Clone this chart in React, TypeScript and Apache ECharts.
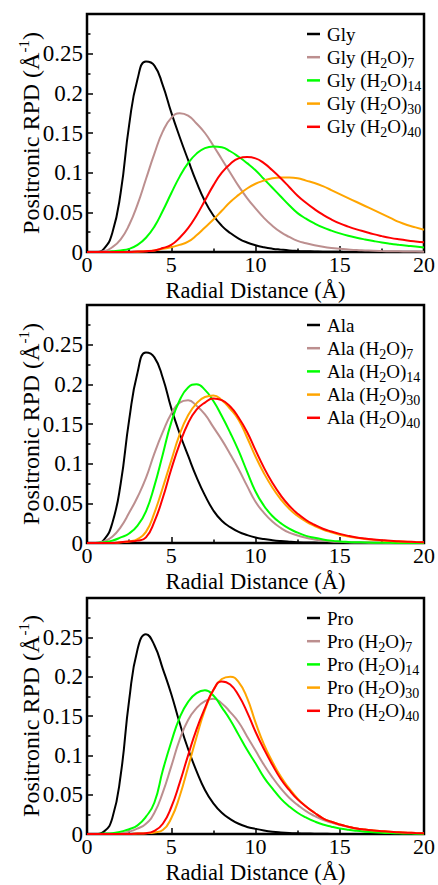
import React, { useEffect, useRef } from 'react';
import * as echarts from 'echarts';

// Radial distance grid (Å), every 0.5 Å from 0 to 20
const RADII = [0, 0.5, 1, 1.5, 2, 2.5, 3, 3.5, 4, 4.5, 5, 5.5, 6, 6.5, 7, 7.5, 8, 8.5, 9, 9.5, 10, 10.5, 11, 11.5, 12, 12.5, 13, 13.5, 14, 14.5, 15, 15.5, 16, 16.5, 17, 17.5, 18, 18.5, 19, 19.5, 20];

// Glycine panel
const GLY_LABELS = ['Gly', 'Gly (H2O)7', 'Gly (H2O)14', 'Gly (H2O)30', 'Gly (H2O)40'];
const GLY_0 = [0, 0, 0.004, 0.024, 0.075, 0.16, 0.218, 0.24, 0.235, 0.21, 0.176, 0.145, 0.116, 0.088, 0.064, 0.046, 0.033, 0.024, 0.017, 0.012, 0.0085, 0.006, 0.0042, 0.003, 0.002, 0.0014, 0.001, 0.0007, 0.0004, 0.0003, 0.0002, 0.0001, 0, 0, 0, 0, 0, 0, 0, 0, 0];
const GLY_7 = [0, 0, 0.001, 0.006, 0.016, 0.034, 0.06, 0.092, 0.124, 0.152, 0.169, 0.175, 0.172, 0.162, 0.15, 0.134, 0.117, 0.1, 0.083, 0.068, 0.055, 0.043, 0.033, 0.025, 0.019, 0.014, 0.011, 0.0085, 0.0065, 0.005, 0.004, 0.0032, 0.0025, 0.002, 0.0015, 0.0012, 0.001, 0.0008, 0.0006, 0.0005, 0.0004];
const GLY_14 = [0, 0, 0, 0.001, 0.002, 0.004, 0.009, 0.018, 0.032, 0.052, 0.074, 0.095, 0.112, 0.124, 0.131, 0.133, 0.132, 0.127, 0.12, 0.112, 0.103, 0.092, 0.081, 0.07, 0.059, 0.049, 0.042, 0.036, 0.031, 0.027, 0.0235, 0.0205, 0.018, 0.0158, 0.0138, 0.012, 0.0105, 0.0092, 0.008, 0.0068, 0.0058];
const GLY_30 = [0, 0, 0, 0, 0, 0, 0.0003, 0.001, 0.002, 0.004, 0.006, 0.009, 0.013, 0.021, 0.031, 0.041, 0.052, 0.063, 0.072, 0.08, 0.086, 0.09, 0.093, 0.094, 0.094, 0.093, 0.09, 0.087, 0.083, 0.078, 0.073, 0.068, 0.063, 0.058, 0.053, 0.048, 0.043, 0.038, 0.034, 0.031, 0.028];
const GLY_40 = [0, 0, 0, 0, 0, 0, 0.0005, 0.001, 0.002, 0.005, 0.009, 0.018, 0.03, 0.046, 0.065, 0.084, 0.1, 0.111, 0.118, 0.1196, 0.118, 0.112, 0.103, 0.093, 0.082, 0.071, 0.062, 0.054, 0.047, 0.041, 0.036, 0.032, 0.0285, 0.0255, 0.0225, 0.02, 0.0178, 0.016, 0.0145, 0.0133, 0.0123];

// Alanine panel
const ALA_LABELS = ['Ala', 'Ala (H2O)7', 'Ala (H2O)14', 'Ala (H2O)30', 'Ala (H2O)40'];
const ALA_0 = [0, 0, 0.004, 0.025, 0.075, 0.155, 0.215, 0.24, 0.234, 0.208, 0.17, 0.138, 0.11, 0.083, 0.06, 0.041, 0.028, 0.02, 0.014, 0.01, 0.007, 0.005, 0.0035, 0.0024, 0.0016, 0.001, 0.0007, 0.0005, 0.0003, 0.0002, 0.0001, 0, 0, 0, 0, 0, 0, 0, 0, 0, 0];
const ALA_7 = [0, 0, 0.002, 0.008, 0.02, 0.038, 0.058, 0.082, 0.113, 0.14, 0.163, 0.177, 0.18, 0.173, 0.162, 0.146, 0.13, 0.112, 0.093, 0.072, 0.052, 0.038, 0.027, 0.019, 0.013, 0.0095, 0.0065, 0.0045, 0.003, 0.002, 0.0015, 0.001, 0.0007, 0.0005, 0.0003, 0.0002, 0.0001, 0, 0, 0, 0];
const ALA_14 = [0, 0, 0.001, 0.003, 0.007, 0.012, 0.022, 0.04, 0.072, 0.112, 0.152, 0.18, 0.196, 0.2, 0.193, 0.179, 0.16, 0.139, 0.116, 0.09, 0.065, 0.047, 0.034, 0.025, 0.018, 0.013, 0.009, 0.0065, 0.0045, 0.003, 0.002, 0.0014, 0.001, 0.0007, 0.0004, 0.0003, 0.0002, 0.0001, 0, 0, 0];
const ALA_30 = [0, 0, 0, 0, 0.001, 0.002, 0.005, 0.014, 0.038, 0.07, 0.104, 0.137, 0.161, 0.176, 0.184, 0.186, 0.18, 0.169, 0.155, 0.133, 0.109, 0.088, 0.07, 0.055, 0.043, 0.034, 0.027, 0.0215, 0.017, 0.0135, 0.0105, 0.0083, 0.0065, 0.0051, 0.004, 0.0032, 0.0025, 0.002, 0.0015, 0.0012, 0.001];
const ALA_40 = [0, 0, 0, 0, 0.001, 0.002, 0.003, 0.007, 0.027, 0.057, 0.093, 0.125, 0.151, 0.168, 0.177, 0.182, 0.18, 0.172, 0.158, 0.14, 0.117, 0.095, 0.076, 0.06, 0.047, 0.037, 0.029, 0.023, 0.018, 0.0145, 0.0115, 0.009, 0.007, 0.0056, 0.0045, 0.0036, 0.0028, 0.0022, 0.0017, 0.0013, 0.001];

// Proline panel
const PRO_LABELS = ['Pro', 'Pro (H2O)7', 'Pro (H2O)14', 'Pro (H2O)30', 'Pro (H2O)40'];
const PRO_0 = [0, 0, 0.003, 0.02, 0.075, 0.17, 0.235, 0.254, 0.24, 0.21, 0.178, 0.141, 0.108, 0.08, 0.056, 0.039, 0.027, 0.019, 0.013, 0.009, 0.0065, 0.0045, 0.003, 0.002, 0.0013, 0.0009, 0.0006, 0.0004, 0.0002, 0.00015, 0.0001, 0, 0, 0, 0, 0, 0, 0, 0, 0, 0];
const PRO_7 = [0, 0, 0, 0, 0.001, 0.003, 0.007, 0.013, 0.027, 0.053, 0.086, 0.12, 0.145, 0.16, 0.169, 0.172, 0.166, 0.155, 0.142, 0.124, 0.106, 0.088, 0.072, 0.058, 0.046, 0.037, 0.029, 0.023, 0.018, 0.0145, 0.0115, 0.009, 0.007, 0.0055, 0.0042, 0.0033, 0.0025, 0.002, 0.0015, 0.0011, 0.0008];
const PRO_14 = [0, 0, 0.0005, 0.001, 0.003, 0.006, 0.011, 0.022, 0.04, 0.081, 0.117, 0.148, 0.168, 0.179, 0.1826, 0.176, 0.161, 0.145, 0.126, 0.107, 0.09, 0.072, 0.058, 0.045, 0.035, 0.027, 0.021, 0.016, 0.012, 0.0093, 0.007, 0.0053, 0.004, 0.003, 0.0022, 0.0016, 0.0012, 0.0009, 0.0006, 0.0004, 0.0003];
const PRO_30 = [0, 0, 0, 0, 0, 0, 0.0005, 0.001, 0.002, 0.005, 0.02, 0.048, 0.085, 0.123, 0.158, 0.183, 0.197, 0.2, 0.193, 0.173, 0.142, 0.114, 0.092, 0.073, 0.058, 0.045, 0.035, 0.027, 0.02, 0.0155, 0.012, 0.0093, 0.007, 0.0056, 0.0045, 0.0036, 0.0028, 0.0022, 0.0017, 0.0013, 0.001];
const PRO_40 = [0, 0, 0, 0, 0, 0, 0.0005, 0.001, 0.004, 0.013, 0.034, 0.065, 0.1, 0.133, 0.16, 0.183, 0.194, 0.19, 0.176, 0.155, 0.13, 0.108, 0.088, 0.07, 0.056, 0.044, 0.035, 0.027, 0.02, 0.0155, 0.012, 0.0093, 0.007, 0.0056, 0.0045, 0.0036, 0.0028, 0.0022, 0.0017, 0.0013, 0.001];

const X_TICKS = [0, 5, 10, 15, 20];
const Y_TICK_LABELS = ['0', '0.05', '0.1', '0.15', '0.2', '0.25', ''];

const COLORS = ['#000000', '#bc8f8f', '#00ff00', '#ffa500', '#ff0000'];
const FONT = 'Liberation Serif, Times New Roman, serif';

const PANELS = [
  { labels: GLY_LABELS, series: [GLY_0, GLY_7, GLY_14, GLY_30, GLY_40] },
  { labels: ALA_LABELS, series: [ALA_0, ALA_7, ALA_14, ALA_30, ALA_40] },
  { labels: PRO_LABELS, series: [PRO_0, PRO_7, PRO_14, PRO_30, PRO_40] },
];
const PANEL_TOPS = [14, 305, 598];
const PLOT_H = 238;

function legendText(name: string): string {
  return name.replace(/\(H2O\)(\d+)/, '(H{s|2}O){s|$1}');
}

export default function App() {
  const ref = useRef<HTMLDivElement>(null);
  useEffect(() => {
    if (!ref.current) return;
    const chart = echarts.init(ref.current, null, { renderer: 'svg' });
    const grid = PANEL_TOPS.map((t) => ({
      left: 87, right: 13, top: t, height: PLOT_H,
      show: true, borderColor: '#000', borderWidth: 2.5, backgroundColor: 'transparent',
    }));
    const xAxis = PANELS.map((_, i) => ({
      type: 'value', gridIndex: i, min: X_TICKS[0], max: X_TICKS[X_TICKS.length - 1], interval: 5,
      axisLine: { show: false },
      axisTick: { show: true, inside: true, length: 6, lineStyle: { color: '#000', width: 1.5 } },
      minorTick: { show: true, splitNumber: 2, length: 3.5, lineStyle: { color: '#000', width: 1.5 } },
      splitLine: { show: false },
      axisLabel: { color: '#000', fontFamily: FONT, fontSize: 22, margin: 2, lineHeight: 20 },
      name: 'Radial Distance (Å)', nameLocation: 'middle', nameGap: 28.5, nameMoveOverlap: false,
      nameTextStyle: { color: '#000', fontFamily: FONT, fontSize: 22.5, lineHeight: 20 },
    }));
    const yAxis = PANELS.map((_, i) => ({
      type: 'value', gridIndex: i, min: 0, max: 0.3, interval: 0.05,
      axisLine: { show: false },
      axisTick: { show: true, inside: true, length: 6, lineStyle: { color: '#000', width: 1.5 } },
      minorTick: { show: true, splitNumber: 2, length: 3.5, lineStyle: { color: '#000', width: 1.5 } },
      splitLine: { show: false },
      axisLabel: {
        color: '#000', fontFamily: FONT, fontSize: 23, margin: 4,
        formatter: (v: number) => Y_TICK_LABELS[Math.round(v / 0.05)] ?? '',
      },
      name: 'Positronic RPD (Å{p|-1})', nameLocation: 'middle', nameGap: 41, nameRotate: 90, nameMoveOverlap: false,
      nameTextStyle: {
        color: '#000', fontFamily: FONT, fontSize: 24, lineHeight: 30,
        rich: { p: { fontFamily: FONT, fontSize: 15, color: '#000', verticalAlign: 'top', lineHeight: 14, padding: [0, 0, 14, 0] } },
      },
    }));
    const series: any[] = [];
    PANELS.forEach((p, i) => {
      p.series.forEach((vals, k) => {
        series.push({
          type: 'line', name: p.labels[k], xAxisIndex: i, yAxisIndex: i,
          data: RADII.map((r, j) => [r, vals[j]]),
          showSymbol: false, smooth: 0.5,
          lineStyle: { width: 2, color: COLORS[k] }, itemStyle: { color: COLORS[k] },
        });
      });
    });
    const legend = PANELS.map((p, i) => ({
      data: p.labels, orient: 'vertical', left: 302, top: PANEL_TOPS[i] + 2,
      icon: 'rect', itemWidth: 13, itemHeight: 2.5, itemGap: -2.8, selectedMode: false,
      formatter: legendText,
      textStyle: {
        color: '#000', fontFamily: FONT, fontSize: 19, lineHeight: 26, padding: [0, 0, 0, 2],
        rich: { s: { fontFamily: FONT, fontSize: 14, color: '#000', verticalAlign: 'bottom', lineHeight: 14, padding: [12, 0, 0, 0] } },
      },
    }));
    chart.setOption({
      animation: false,
      backgroundColor: '#fff',
      grid, xAxis, yAxis, series, legend,
    });
    return () => chart.dispose();
  }, []);
  return <div ref={ref} style={{ position: 'fixed', left: 0, top: 0, width: 438, height: 885, background: '#fff' }} />;
}
